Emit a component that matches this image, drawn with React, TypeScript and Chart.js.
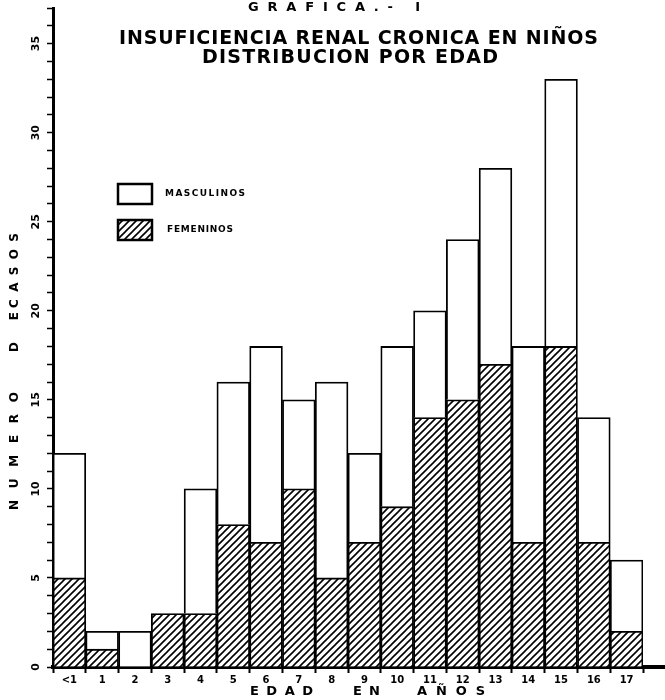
import React, { useEffect, useRef } from 'react';
import { Chart, registerables } from 'chart.js';

Chart.register(...registerables);

// ---- data ----
const edades = ['<1', '1', '2', '3', '4', '5', '6', '7', '8', '9', '10', '11', '12', '13', '14', '15', '16', '17'];
const femeninos = [5, 1, 0, 3, 3, 8, 7, 10, 5, 7, 9, 14, 15, 17, 7, 18, 7, 2];
const masculinos = [7, 1, 2, 0, 7, 8, 11, 5, 11, 5, 9, 6, 9, 11, 11, 15, 7, 4];
const yTickLabels = [0, 5, 10, 15, 20, 25, 30, 35];
const yMax = 37;

const grafica = 'GRAFICA.- I';
const tituloLinea1 = 'INSUFICIENCIA RENAL CRONICA EN NIÑOS';
const tituloLinea2 = 'DISTRIBUCION POR EDAD';
const ejeXPalabras = ['EDAD', 'EN', 'AÑOS'];
const ejeYPalabras = ['NUMERO', 'DE', 'CASOS'];
const leyenda = ['MASCULINOS', 'FEMENINOS'];

const FONT = '"DejaVu Sans", "Liberation Sans", sans-serif';

function drawSpaced(ctx: CanvasRenderingContext2D, text: string, x1: number, x2: number, y: number) {
  const chars = Array.from(text);
  const widths = chars.map((c) => ctx.measureText(c).width);
  const total = widths.reduce((a, b) => a + b, 0);
  const gap = chars.length > 1 ? (x2 - x1 - total) / (chars.length - 1) : 0;
  let x = x1;
  ctx.textAlign = 'left';
  chars.forEach((c, i) => {
    ctx.fillText(c, x, y);
    x += widths[i] + gap;
  });
}

function makeHatch(): CanvasPattern | string {
  const s = 7;
  const pc = document.createElement('canvas');
  pc.width = s;
  pc.height = s;
  const g = pc.getContext('2d');
  if (!g) return '#888';
  g.fillStyle = '#fff';
  g.fillRect(0, 0, s, s);
  g.strokeStyle = '#000';
  g.lineWidth = 1.6;
  g.beginPath();
  g.moveTo(-1, s + 1);
  g.lineTo(s + 1, -1);
  g.moveTo(-1, 1);
  g.lineTo(1, -1);
  g.moveTo(s - 1, s + 1);
  g.lineTo(s + 1, s - 1);
  g.stroke();
  const p = g.createPattern(pc, 'repeat');
  return p || '#888';
}

const decorPlugin = {
  id: 'decor',
  afterDraw(chart: any) {
    const ctx: CanvasRenderingContext2D = chart.ctx;
    const area = chart.chartArea;
    const yScale = chart.scales.y;
    ctx.save();
    ctx.fillStyle = '#000';
    ctx.textBaseline = 'middle';

    // x-axis line extension to the right edge
    ctx.strokeStyle = '#000';
    ctx.lineWidth = 4;
    ctx.beginPath();
    ctx.moveTo(area.right, area.bottom);
    ctx.lineTo(chart.width, area.bottom);
    ctx.stroke();

    // titles
    ctx.font = `bold 13px ${FONT}`;
    drawSpaced(ctx, grafica, 248, 420, 8);
    ctx.font = `bold 19px ${FONT}`;
    drawSpaced(ctx, tituloLinea1, 119, 598, 39);
    drawSpaced(ctx, tituloLinea2, 202, 498, 58);

    // y tick labels (rotated)
    ctx.font = `bold 11px ${FONT}`;
    ctx.textAlign = 'center';
    yTickLabels.forEach((v) => {
      const y = yScale.getPixelForValue(v);
      ctx.save();
      ctx.translate(36, y);
      ctx.rotate(-Math.PI / 2);
      ctx.fillText(String(v), 0, 0);
      ctx.restore();
    });

    // y axis title (rotated)
    ctx.font = `bold 12px ${FONT}`;
    ctx.save();
    ctx.translate(15, 0);
    ctx.rotate(-Math.PI / 2);
    drawSpaced(ctx, ejeYPalabras[0], -510, -392, 0);
    drawSpaced(ctx, ejeYPalabras[1], -352, -312, 0);
    drawSpaced(ctx, ejeYPalabras[2], -308, -233, 0);
    ctx.restore();

    // x axis title
    ctx.font = `bold 13px ${FONT}`;
    drawSpaced(ctx, ejeXPalabras[0], 250, 313, 692);
    drawSpaced(ctx, ejeXPalabras[1], 353, 380, 692);
    drawSpaced(ctx, ejeXPalabras[2], 417, 485, 692);

    // legend
    const dsM = chart.data.datasets[1];
    const dsF = chart.data.datasets[0];
    ctx.lineWidth = 2.5;
    ctx.strokeStyle = '#000';
    ctx.fillStyle = dsM.backgroundColor;
    ctx.fillRect(118, 184, 34, 20);
    ctx.strokeRect(118, 184, 34, 20);
    ctx.fillStyle = dsF.backgroundColor;
    ctx.fillRect(118, 220, 34, 20);
    ctx.strokeRect(118, 220, 34, 20);
    ctx.fillStyle = '#000';
    ctx.font = `bold 9px ${FONT}`;
    drawSpaced(ctx, dsM.label, 165, 245, 194);
    drawSpaced(ctx, dsF.label, 167, 233, 230);

    ctx.restore();
  },
};

export default function App() {
  const ref = useRef<HTMLCanvasElement | null>(null);

  useEffect(() => {
    document.body.style.margin = '0';
    const canvas = ref.current;
    if (!canvas) return;
    const hatch = makeHatch();
    const chart = new Chart(canvas, {
      type: 'bar',
      data: {
        labels: edades,
        datasets: [
          {
            label: leyenda[1],
            data: femeninos,
            backgroundColor: hatch as any,
            borderColor: '#000',
            borderWidth: 1.8,
            barPercentage: 1,
            categoryPercentage: 1,
          },
          {
            label: leyenda[0],
            data: masculinos,
            backgroundColor: '#fff',
            borderColor: '#000',
            borderWidth: 1.8,
            barPercentage: 1,
            categoryPercentage: 1,
          },
        ],
      },
      options: {
        responsive: false,
        animation: false,
        devicePixelRatio: 1,
        layout: { padding: { top: 8, right: 22, left: 0, bottom: 0 } },
        plugins: {
          legend: { display: false },
          title: { display: false },
          tooltip: { enabled: false },
        },
        scales: {
          x: {
            stacked: true,
            offset: true,
            grid: {
              offset: true,
              drawOnChartArea: false,
              drawTicks: true,
              tickLength: 6,
              tickColor: '#000',
              tickWidth: 2,
            },
            border: { display: true, color: '#000', width: 4 },
            ticks: {
              color: '#000',
              font: { family: FONT, weight: 'bold', size: 10 },
              padding: 1,
              maxRotation: 0,
              autoSkip: false,
            },
            afterFit: (s: any) => {
              s.height = 33;
            },
          },
          y: {
            stacked: true,
            min: 0,
            max: yMax,
            grid: {
              drawOnChartArea: false,
              drawTicks: true,
              tickLength: 6,
              tickColor: '#000',
              tickWidth: 1.5,
            },
            border: { display: true, color: '#000', width: 3 },
            ticks: { stepSize: 1, display: false },
            afterFit: (s: any) => {
              s.width = 53;
            },
          },
        },
      } as any,
      plugins: [decorPlugin],
    });
    return () => chart.destroy();
  }, []);

  return (
    <div style={{ width: 665, height: 700, background: '#fff' }}>
      <canvas ref={ref} width={665} height={700} style={{ display: 'block' }} />
    </div>
  );
}
